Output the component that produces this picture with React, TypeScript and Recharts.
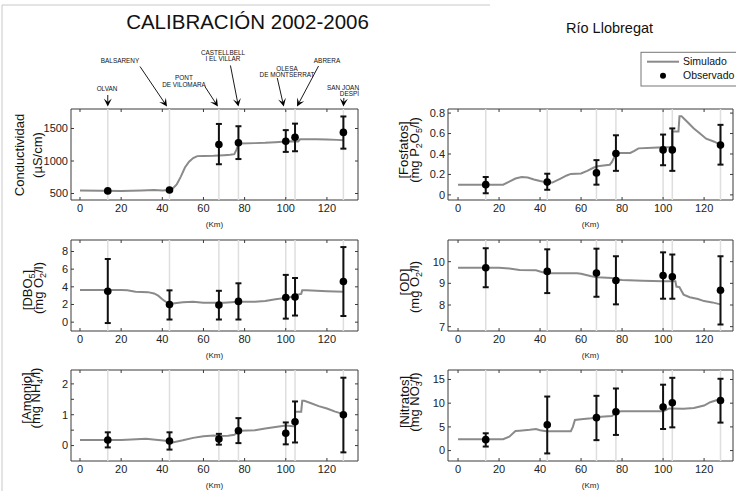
import React from 'react';
import { ComposedChart, Line, Scatter, XAxis, YAxis, ErrorBar, ReferenceLine, ReferenceArea } from 'recharts';

const FONT = '"Liberation Sans", Arial, Helvetica, sans-serif';

// ---------------- data ----------------
const STATIONS_KM = [13.5, 43.5, 67.5, 77, 100, 104.5, 128];
const STATION_NAMES = [
  ['OLVAN'],
  ['BALSARENY'],
  ['PONT', 'DE VILOMARA'],
  ['CASTELLBELL', 'I EL VILLAR'],
  ['OLESA', 'DE MONTSERRAT'],
  ['ABRERA'],
  ['SAN JOAN', 'DESPÍ'],
];
const X_TICKS = [0, 20, 40, 60, 80, 100, 120];

// Conductividad
const condSimKm = [0, 10, 20, 30, 36, 40, 43.5, 45, 47, 49, 51, 53, 55, 57, 60, 65, 70, 73, 75, 76, 77, 78, 85, 90, 95, 100, 103, 104.5, 106, 107, 110, 115, 120, 125, 128];
const condSimVal = [545, 542, 540, 545, 552, 548, 552, 575, 640, 760, 900, 990, 1045, 1075, 1078, 1080, 1090, 1095, 1105, 1170, 1255, 1270, 1275, 1280, 1290, 1300, 1305, 1300, 1300, 1335, 1335, 1335, 1330, 1325, 1320];
const condObs = [540, 555, 1255, 1280, 1305, 1365, 1440];
const condLow = [525, 540, 950, 1030, 1140, 1150, 1190];
const condHigh = [555, 570, 1570, 1535, 1475, 1575, 1685];
const condTicks = [500, 1000, 1500];

// Fosfatos
const fosSimKm = [0, 10, 20, 22, 25, 28, 31, 34, 37, 40, 43.5, 46, 50, 53, 55, 60, 63, 66, 68, 72, 74, 75, 76.5, 77.5, 80, 84, 86, 88, 95, 100, 104.5, 104.5, 107.5, 108, 109, 110, 112, 115, 118, 121, 125, 128];
const fosSimVal = [0.1, 0.1, 0.1, 0.1, 0.13, 0.16, 0.175, 0.17, 0.15, 0.135, 0.12, 0.12, 0.16, 0.19, 0.205, 0.21, 0.235, 0.265, 0.28, 0.29, 0.295, 0.32, 0.38, 0.41, 0.41, 0.41, 0.43, 0.455, 0.46, 0.465, 0.465, 0.62, 0.62, 0.77, 0.77, 0.75, 0.71, 0.65, 0.6, 0.55, 0.52, 0.49];
const fosObs = [0.1, 0.125, 0.215, 0.405, 0.44, 0.44, 0.487];
const fosLow = [0.016, 0.05, 0.1, 0.235, 0.29, 0.235, 0.296];
const fosHigh = [0.175, 0.207, 0.34, 0.583, 0.59, 0.65, 0.685];
const fosTicks = [0, 0.2, 0.4, 0.6, 0.8];

// DBO5
const dboSimKm = [0, 10, 20, 23, 27, 33, 36, 38, 40, 42, 43.5, 45, 50, 55, 60, 70, 77, 85, 90, 95, 100, 104, 105, 106.5, 107.5, 108, 110, 120, 128];
const dboSimVal = [3.65, 3.65, 3.65, 3.6, 3.45, 3.4, 3.25, 3.0, 2.6, 2.25, 2.05, 2.1, 2.25, 2.3, 2.2, 2.2, 2.3, 2.3, 2.4, 2.6, 2.75, 2.9, 3.1, 3.15, 3.2, 3.6, 3.6, 3.5, 3.45];
const dboObs = [3.5, 2.0, 1.95, 2.35, 2.8, 2.85, 4.6];
const dboLow = [-0.1, 0.3, 0.3, 0.3, 0.4, 0.75, 0.7];
const dboHigh = [7.15, 3.6, 3.55, 4.4, 5.35, 5.0, 8.5];
const dboTicks = [0, 2, 4, 6, 8];

// OD
const odSimKm = [0, 10, 20, 25, 30, 38, 40, 43, 50, 58, 60, 65, 68, 75, 77, 80, 90, 100, 106, 106.5, 108, 109, 110, 113, 117, 120, 124, 128];
const odSimVal = [9.72, 9.72, 9.72, 9.68, 9.62, 9.6, 9.55, 9.47, 9.47, 9.47, 9.44, 9.33, 9.28, 9.25, 9.18, 9.15, 9.12, 9.1, 9.1, 8.85, 8.82, 8.65, 8.48, 8.36, 8.28, 8.18, 8.12, 8.03];
const odObs = [9.72, 9.55, 9.48, 9.13, 9.36, 9.3, 8.68];
const odLow = [8.82, 8.55, 8.38, 8.03, 8.29, 8.29, 7.1];
const odHigh = [10.62, 10.57, 10.6, 10.25, 10.43, 10.33, 10.25];
const odTicks = [7, 8, 9, 10];

// Amonio
const amoSimKm = [0, 10, 20, 25, 32, 38, 43, 45, 50, 55, 60, 65, 68, 72, 75, 77, 78, 85, 90, 95, 100, 104.5, 104.5, 107.5, 108, 109, 112, 116, 120, 124, 128];
const amoSimVal = [0.18, 0.18, 0.18, 0.2, 0.22, 0.18, 0.15, 0.1, 0.17, 0.25, 0.3, 0.33, 0.31, 0.32, 0.35, 0.45, 0.48, 0.5, 0.55, 0.6, 0.65, 0.62, 1.1, 1.1, 1.45, 1.45, 1.38, 1.28, 1.2, 1.1, 1.02];
const amoObs = [0.18, 0.15, 0.21, 0.48, 0.4, 0.77, 1.0];
const amoLow = [-0.06, -0.13, 0.03, 0.08, 0.04, 0.1, -0.22];
const amoHigh = [0.43, 0.43, 0.38, 0.89, 0.75, 1.43, 2.2];
const amoTicks = [0, 0.5, 1, 1.5, 2];

// Nitratos
const nitSimKm = [0, 10, 22, 25, 28, 30, 35, 38, 40, 43, 50, 55, 56, 57, 60, 65, 68, 75, 76, 77, 80, 90, 100, 101, 103, 110, 115, 120, 123, 126, 128];
const nitSimVal = [2.4, 2.4, 2.4, 2.94, 4.13, 4.2, 4.4, 4.55, 4.3, 4.1, 4.1, 4.1, 5.0, 6.45, 6.6, 6.8, 7.1, 7.3, 7.6, 8.2, 8.3, 8.3, 8.3, 8.5, 8.9, 8.8, 9.0, 9.5, 10.2, 10.6, 10.8];
const nitObs = [2.3, 5.45, 6.95, 8.2, 9.2, 10.1, 10.55];
const nitLow = [0.85, -0.6, 2.2, 3.3, 4.55, 4.9, 5.9];
const nitHigh = [3.65, 11.4, 11.55, 13.1, 13.9, 15.35, 15.15];
const nitTicks = [0, 5, 10, 15];

// ---------------- layout ----------------
const LEFT_BOX = { x: 71, w: 287, xDomain: [-4.37, 135.1] as [number, number] };
const RIGHT_BOX = { x: 448.3, w: 285, xDomain: [-4.9, 134.1] as [number, number] };
const ROW_TOP = [109, 239.5, 370];
const BOX_H = 91;
const TICK_PX = 3;

const YW = 45;
const MT = 5;
const MR = 6;
const XH = 30;

const buildSim = (kms: number[], vals: number[]) => kms.map((km, i) => ({ km, v: vals[i] }));
const buildObs = (obs: number[], low: number[], high: number[]) =>
  STATIONS_KM.map((km, i) => ({ km, v: obs[i], err: [obs[i] - low[i], high[i] - obs[i]] }));

type PanelDef = {
  id: string;
  col: typeof LEFT_BOX;
  row: number;
  sim: { km: number; v: number }[];
  obs: { km: number; v: number; err: number[] }[];
  yDomain: [number, number];
  yTicks: number[];
};

const PANELS: PanelDef[] = [
  { id: 'cond', col: LEFT_BOX, row: 0, sim: buildSim(condSimKm, condSimVal), obs: buildObs(condObs, condLow, condHigh), yDomain: [400, 1800], yTicks: condTicks },
  { id: 'fos', col: RIGHT_BOX, row: 0, sim: buildSim(fosSimKm, fosSimVal), obs: buildObs(fosObs, fosLow, fosHigh), yDomain: [-0.05, 0.84], yTicks: fosTicks },
  { id: 'dbo', col: LEFT_BOX, row: 1, sim: buildSim(dboSimKm, dboSimVal), obs: buildObs(dboObs, dboLow, dboHigh), yDomain: [-1, 9.3], yTicks: dboTicks },
  { id: 'od', col: RIGHT_BOX, row: 1, sim: buildSim(odSimKm, odSimVal), obs: buildObs(odObs, odLow, odHigh), yDomain: [6.8, 11], yTicks: odTicks },
  { id: 'amo', col: LEFT_BOX, row: 2, sim: buildSim(amoSimKm, amoSimVal), obs: buildObs(amoObs, amoLow, amoHigh), yDomain: [-0.5, 2.45], yTicks: amoTicks },
  { id: 'nit', col: RIGHT_BOX, row: 2, sim: buildSim(nitSimKm, nitSimVal), obs: buildObs(nitObs, nitLow, nitHigh), yDomain: [-2.2, 17], yTicks: nitTicks },
];

const AXIS_COLOR = '#3a3a3a';
const TICK_STYLE = { fontSize: 11, fill: '#222', fontFamily: FONT };

const Dot = (p: any) => <circle cx={p.cx} cy={p.cy} r={3.8} fill="#000" />;

function Panel({ p }: { p: PanelDef }) {
  const left = p.col.x - YW;
  const top = ROW_TOP[p.row] - MT;
  const width = YW + p.col.w + MR;
  const height = MT + BOX_H + XH;
  const [x0, x1] = p.col.xDomain;
  const [y0, y1] = p.yDomain;
  const dyTick = (TICK_PX / BOX_H) * (y1 - y0);
  const dxTick = (TICK_PX / p.col.w) * (x1 - x0);
  return (
    <div style={{ position: 'absolute', left, top, width, height }}>
      <ComposedChart width={width} height={height} margin={{ top: MT, right: MR, bottom: 0, left: 0 }}>
        <XAxis
          type="number"
          dataKey="km"
          domain={p.col.xDomain}
          allowDataOverflow
          ticks={X_TICKS}
          orientation="bottom"
          height={XH}
          tickSize={0}
          tickMargin={4}
          axisLine={false}
          tickLine={false}
          tick={TICK_STYLE}
          label={{ value: '(Km)', position: 'insideBottom', offset: 3, fontSize: 8, fill: '#222', fontFamily: FONT }}
        />
        <YAxis
          type="number"
          dataKey="v"
          domain={p.yDomain}
          allowDataOverflow
          ticks={p.yTicks}
          width={YW}
          tickSize={0}
          tickMargin={3}
          axisLine={false}
          tickLine={false}
          tick={TICK_STYLE}
        />
        {STATIONS_KM.map((km) => (
          <ReferenceLine key={km} x={km} stroke="#dedede" strokeWidth={1.5} />
        ))}
        {/* inward tick marks on all four sides */}
        {X_TICKS.map((t) => (
          <ReferenceLine
            key={`xb${t}`}
            segment={[{ x: t, y: y0 }, { x: t, y: y0 + dyTick }]}
            stroke={AXIS_COLOR}
            strokeWidth={1}
            ifOverflow="visible"
          />
        ))}
        {X_TICKS.map((t) => (
          <ReferenceLine
            key={`xt${t}`}
            segment={[{ x: t, y: y1 }, { x: t, y: y1 - dyTick }]}
            stroke={AXIS_COLOR}
            strokeWidth={1}
            ifOverflow="visible"
          />
        ))}
        {p.yTicks.map((t) => (
          <ReferenceLine
            key={`yl${t}`}
            segment={[{ x: x0, y: t }, { x: x0 + dxTick, y: t }]}
            stroke={AXIS_COLOR}
            strokeWidth={1}
            ifOverflow="visible"
          />
        ))}
        {p.yTicks.map((t) => (
          <ReferenceLine
            key={`yr${t}`}
            segment={[{ x: x1, y: t }, { x: x1 - dxTick, y: t }]}
            stroke={AXIS_COLOR}
            strokeWidth={1}
            ifOverflow="visible"
          />
        ))}
        <Line
          data={p.sim}
          dataKey="v"
          type="linear"
          stroke="#8a8a8a"
          strokeWidth={2}
          dot={false}
          activeDot={false}
          isAnimationActive={false}
        />
        <Scatter data={p.obs} dataKey="v" shape={Dot} isAnimationActive={false}>
          <ErrorBar dataKey="err" direction="y" width={3} stroke="#111" strokeWidth={2} isAnimationActive={false} />
        </Scatter>
        <ReferenceArea
          x1={x0}
          x2={x1}
          y1={y0}
          y2={y1}
          fill="none"
          fillOpacity={0}
          stroke={AXIS_COLOR}
          strokeWidth={1}
          ifOverflow="visible"
        />
      </ComposedChart>
    </div>
  );
}

// station annotation layout (arrow tip offset from station line, tail offset from tip, label anchor)
const LEFT_X = (km: number) => LEFT_BOX.x + ((km - LEFT_BOX.xDomain[0]) / (LEFT_BOX.xDomain[1] - LEFT_BOX.xDomain[0])) * LEFT_BOX.w;
const ARROW_TIP_Y = 106.5;
const ANNOT = [
  { tipDx: 0, tail: [0, -11.5], lx: 107, ly: 88.3, anchor: 'middle' },
  { tipDx: -2.5, tail: [-27, -40], lx: 120, ly: 60.7, anchor: 'middle' },
  { tipDx: -1, tail: [-13, -20], lx: 184, ly: 77.7, anchor: 'middle' },
  { tipDx: 0, tail: [-8, -41], lx: 223, ly: 52.3, anchor: 'middle' },
  { tipDx: -2, tail: [-6.5, -28.5], lx: 287, ly: 68.3, anchor: 'middle' },
  { tipDx: 2, tail: [21.5, -40.5], lx: 327, ly: 61, anchor: 'middle' },
  { tipDx: 0, tail: [0.5, -8.5], lx: 359, ly: 87.3, anchor: 'end' },
];

function Arrow({ x1, y1, x2, y2 }: { x1: number; y1: number; x2: number; y2: number }) {
  const dx = x2 - x1;
  const dy = y2 - y1;
  const len = Math.sqrt(dx * dx + dy * dy);
  const ux = dx / len;
  const uy = dy / len;
  const nx = -uy;
  const ny = ux;
  const L = 8;
  const W = 4;
  const pts = [
    [x2, y2],
    [x2 - L * ux + W * nx, y2 - L * uy + W * ny],
    [x2 - 0.55 * L * ux, y2 - 0.55 * L * uy],
    [x2 - L * ux - W * nx, y2 - L * uy - W * ny],
  ]
    .map((q) => q.join(','))
    .join(' ');
  return (
    <g>
      <line x1={x1} y1={y1} x2={x2 - 0.5 * L * ux} y2={y2 - 0.5 * L * uy} stroke="#000" strokeWidth={0.9} />
      <polygon points={pts} fill="#000" />
    </g>
  );
}

function YLabel({ cx, cy, children }: { cx: number; cy: number; children: React.ReactNode }) {
  return (
    <text
      x={cx}
      y={cy}
      dy="0.35em"
      transform={`rotate(-90 ${cx} ${cy})`}
      textAnchor="middle"
      fontSize={13}
      fontFamily={FONT}
      fill="#111"
    >
      {children}
    </text>
  );
}

const SUB = { fontSize: 9 };

function Overlay() {
  return (
    <svg width={736} height={491} style={{ position: 'absolute', left: 0, top: 0, pointerEvents: 'none' }}>
      {/* frame */}
      <line x1={2} y1={5} x2={490} y2={5} stroke="#c8c8c8" strokeWidth={1} />
      <line x1={2} y1={5} x2={2} y2={491} stroke="#c8c8c8" strokeWidth={1} />

      {/* titles */}
      <text x={247.5} y={28.5} textAnchor="middle" fontSize={20.5} fontFamily={FONT} fill="#111">
        CALIBRACIÓN 2002-2006
      </text>
      <text x={566} y={33} fontSize={14.5} fontFamily={FONT} fill="#111">
        Río Llobregat
      </text>

      {/* legend */}
      <rect x={641} y={52.3} width={110} height={33.7} fill="#fff" stroke="#777" strokeWidth={1} />
      <line x1={647} y1={61.7} x2={679} y2={61.7} stroke="#8a8a8a" strokeWidth={2} />
      <text x={683} y={65.3} fontSize={10.5} fontFamily={FONT} fill="#111">
        Simulado
      </text>
      <circle cx={663} cy={75.7} r={3} fill="#000" />
      <text x={683} y={79.3} fontSize={10.5} fontFamily={FONT} fill="#111">
        Observado
      </text>

      {/* station annotations */}
      {STATIONS_KM.map((km, i) => {
        const a = ANNOT[i];
        const tx = LEFT_X(km) + a.tipDx;
        const ty = ARROW_TIP_Y;
        return (
          <g key={km}>
            <Arrow x1={tx + a.tail[0]} y1={ty + a.tail[1]} x2={tx} y2={ty} />
            {STATION_NAMES[i].map((name, j) => (
              <text
                key={name}
                x={a.lx}
                y={a.ly + 2.3 + j * 6.6}
                textAnchor={a.anchor as any}
                fontSize={6.4}
                fontFamily={FONT}
                fill="#111"
              >
                {name}
              </text>
            ))}
          </g>
        );
      })}

      {/* y-axis labels */}
      <YLabel cx={19} cy={155}>Conductividad</YLabel>
      <YLabel cx={37} cy={155}>(µS/cm)</YLabel>

      <YLabel cx={403} cy={150}>[Fosfatos]</YLabel>
      <YLabel cx={414} cy={150}>
        (mg P<tspan dy={3} {...SUB}>2</tspan>
        <tspan dy={-3}>O</tspan>
        <tspan dy={3} {...SUB}>5</tspan>
        <tspan dy={-3}>/l)</tspan>
      </YLabel>

      <YLabel cx={27} cy={290}>
        [DBO<tspan dy={3} {...SUB}>5</tspan>
        <tspan dy={-3}>]</tspan>
      </YLabel>
      <YLabel cx={38} cy={288}>
        (mg O<tspan dy={3} {...SUB}>2</tspan>
        <tspan dy={-3}>/l)</tspan>
      </YLabel>

      <YLabel cx={404} cy={282}>[OD]</YLabel>
      <YLabel cx={414} cy={287}>
        (mg O<tspan dy={3} {...SUB}>2</tspan>
        <tspan dy={-3}>/l)</tspan>
      </YLabel>

      <YLabel cx={26} cy={398}>[Amonio]</YLabel>
      <YLabel cx={35} cy={398}>
        (mg NH<tspan dy={3} {...SUB}>4</tspan>
        <tspan dx={-5} dy={-8} {...SUB}>+</tspan>
        <tspan dy={5}>/l)</tspan>
      </YLabel>

      <YLabel cx={404} cy={402}>[Nitratos]</YLabel>
      <YLabel cx={414} cy={402}>
        (mg NO<tspan dy={3} {...SUB}>3</tspan>
        <tspan dx={-5} dy={-8} {...SUB}>-</tspan>
        <tspan dy={5}>/l)</tspan>
      </YLabel>
    </svg>
  );
}

export default function App() {
  return (
    <div style={{ position: 'absolute', left: 0, top: 0, width: 736, height: 491, background: '#fff', overflow: 'hidden' }}>
      {PANELS.map((p) => (
        <Panel key={p.id} p={p} />
      ))}
      <Overlay />
    </div>
  );
}
